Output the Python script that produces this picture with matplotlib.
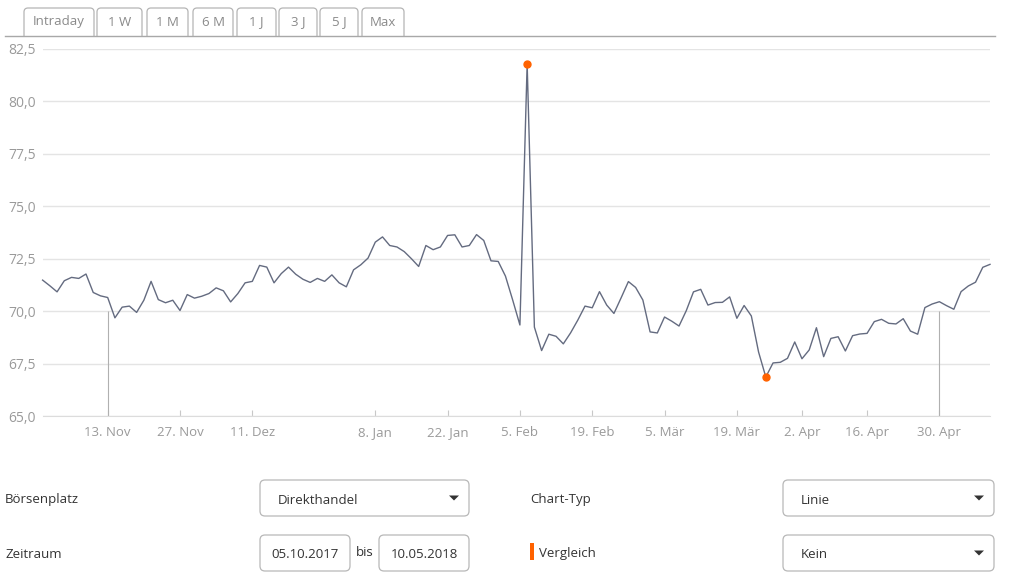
import matplotlib.pyplot as plt
from matplotlib.patches import FancyBboxPatch, Polygon

plt.rcParams['font.family'] = ['Open Sans', 'DejaVu Sans']

# daily closing prices (trading days)
prices = [71.48, 71.21, 70.92, 71.45, 71.61, 71.56, 71.77, 70.89, 70.73, 70.65,
          69.68, 70.19, 70.24, 69.94, 70.52, 71.42, 70.55, 70.40, 70.52, 70.03,
          70.79, 70.62, 70.71, 70.84, 71.11, 70.97, 70.44, 70.84, 71.35, 71.42,
          72.18, 72.10, 71.35, 71.79, 72.10, 71.76, 71.52, 71.37, 71.56, 71.42,
          71.73, 71.35, 71.16, 71.97, 72.21, 72.53, 73.29, 73.54, 73.13, 73.06,
          72.84, 72.50, 72.13, 73.13, 72.93, 73.06, 73.61, 73.64, 73.06, 73.13,
          73.65, 73.37, 72.40, 72.37, 71.67, 70.53, 69.34, 81.79, 69.24, 68.12,
          68.90, 68.80, 68.44, 68.96, 69.57, 70.24, 70.16, 70.93, 70.29, 69.89,
          70.64, 71.41, 71.13, 70.53, 69.01, 68.96, 69.72, 69.52, 69.29, 70.02,
          70.92, 71.04, 70.29, 70.41, 70.42, 70.68, 69.66, 70.27, 69.77, 68.05,
          66.86, 67.53, 67.56, 67.75, 68.53, 67.73, 68.15, 69.21, 67.83, 68.70,
          68.78, 68.10, 68.83, 68.91, 68.94, 69.50, 69.61, 69.42, 69.39, 69.64,
          69.05, 68.90, 70.17, 70.34, 70.45, 70.26, 70.09, 70.93, 71.20, 71.38,
          72.09, 72.23]

tick_idx = [9, 19, 29, 46, 56, 66, 76, 86, 96, 105, 114, 124]
tick_labels = ['13. Nov', '27. Nov', '11. Dez', '8. Jan', '22. Jan', '5. Feb',
               '19. Feb', '5. Mär', '19. Mär', '2. Apr', '16. Apr', '30. Apr']
y_ticks = [65.0, 67.5, 70.0, 72.5, 75.0, 77.5, 80.0, 82.5]
y_labels = ['65,0', '67,5', '70,0', '72,5', '75,0', '77,5', '80,0', '82,5']
event_idx = [9, 124]  # thin drop lines
event_top = 70.0

tabs = ['Intraday', '1 W', '1 M', '6 M', '1 J', '3 J', '5 J', 'Max']

line_col = '#646b80'
orange = '#ff6200'
label_grey = '#9a9a9a'

fig = plt.figure(figsize=(10.24, 5.78), dpi=100)

# UI layer in pixel coordinates
ui = fig.add_axes([0, 0, 1, 1])
ui.set_xlim(0, 1024)
ui.set_ylim(578, 0)
ui.axis('off')

# tabs
tab_x = [(24, 94), (97, 142), (147, 188), (193, 233), (237, 276), (279, 317), (320, 358), (362, 404)]
for name, (x0, x1) in zip(tabs, tab_x):
    ui.add_patch(FancyBboxPatch((x0, 8), x1 - x0, 32, boxstyle='round,pad=0,rounding_size=4',
                                fc='white', ec='#b5b5b5', lw=0.9, zorder=2))
    ui.text((x0 + x1) / 2, 22, name, ha='center', va='center', fontsize=9.5,
            color='#8a8a8a', zorder=3)
# mask the bottom of the tabs below the rule
ui.add_patch(plt.Rectangle((0, 36), 1024, 8, fc='white', ec='none', zorder=3))
ui.plot([5, 995], [35.5, 35.5], color='#a8a8a8', lw=1, zorder=4)

# form controls below the chart
def box(x0, y0, x1, y1):
    ui.add_patch(FancyBboxPatch((x0, y0), x1 - x0, y1 - y0, boxstyle='round,pad=0,rounding_size=5',
                                fc='white', ec='#b8b8b8', lw=0.9))

def arrow(x, y):
    ui.add_patch(Polygon([[x - 5, y - 2.5], [x + 5, y - 2.5], [x, y + 2.5]], closed=True,
                         fc='#333333', ec='none'))

txt = dict(fontsize=9.5, color='#333333', va='center')
ui.text(5, 499, 'Börsenplatz', **txt)
box(260, 480, 469, 516)
ui.text(278, 500, 'Direkthandel', **txt)
arrow(454, 498)

ui.text(530, 499, 'Chart-Typ', **txt)
box(783, 480, 994, 516)
ui.text(801, 500, 'Linie', **txt)
arrow(979, 498)

ui.text(5, 554, 'Zeitraum', **txt)
box(260, 535, 350, 571)
ui.text(305, 554, '05.10.2017', ha='center', fontsize=9.5, color='#333333', va='center')
ui.text(356, 553, 'bis', **txt)
box(379, 535, 469, 571)
ui.text(424, 554, '10.05.2018', ha='center', fontsize=9.5, color='#333333', va='center')

ui.add_patch(plt.Rectangle((530, 543), 3.5, 17, fc=orange, ec='none'))
ui.text(539, 553, 'Vergleich', **txt)
box(783, 535, 994, 571)
ui.text(801, 554, 'Kein', **txt)
arrow(979, 553)

# chart
ax = fig.add_axes([42.6 / 1024, 1 - 416 / 578, (990 - 42.6) / 1024, (416 - 49) / 578])
ax.set_facecolor('none')
xs = list(range(len(prices)))
ax.set_xlim(0, len(prices) - 1)
ax.set_ylim(65, 82.5)

ax.set_yticks(y_ticks)
ax.set_yticklabels(y_labels)
ax.set_xticks(tick_idx)
ax.set_xticklabels(tick_labels)
ax.grid(axis='y', color='#e4e4e4', lw=1)
ax.set_axisbelow(True)
for s in ['top', 'right', 'left']:
    ax.spines[s].set_visible(False)
ax.spines['bottom'].set_color('#dcdcdc')
ax.tick_params(axis='y', length=0, pad=5, labelsize=10, labelcolor=label_grey)
ax.tick_params(axis='x', direction='in', length=4, color='#c8c8c8', pad=7,
               labelsize=9.5, labelcolor=label_grey)

ax.vlines(event_idx, 65, event_top, color='#b0b0b0', lw=0.8, zorder=1)
ax.plot(xs, prices, color=line_col, lw=1, zorder=2, clip_on=False)

i_max = prices.index(max(prices))
i_min = prices.index(min(prices))
ax.plot([i_max, i_min], [prices[i_max], prices[i_min]], 'o', color=orange, ms=5,
        zorder=3, clip_on=False)

fig.savefig('out.png', dpi=100)
